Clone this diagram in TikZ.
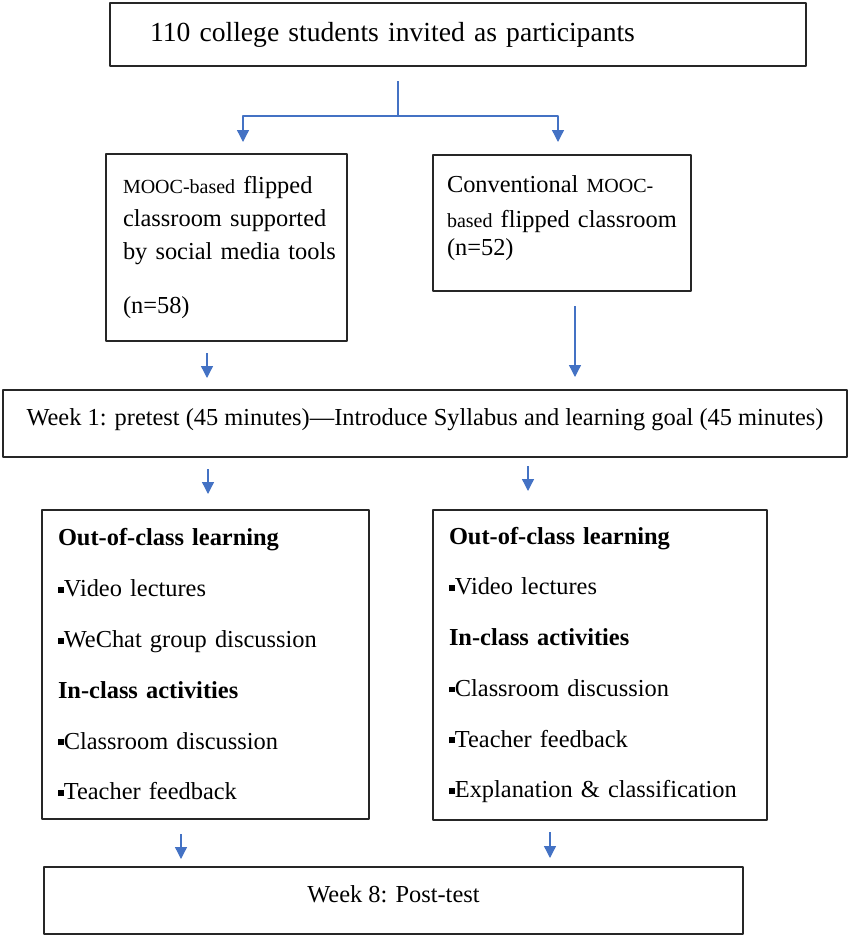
\documentclass[tikz,border=0pt]{standalone}
\usepackage{fontspec}
\setmainfont{Liberation Serif}
\usetikzlibrary{arrows.meta,calc}
\definecolor{flowblue}{RGB}{68,114,196}
\newcommand\sqb{\rule[0.16em]{0.24em}{0.24em}}
\newcommand\mooc[1]{{\fontsize{10}{12}\selectfont #1}}
\begin{document}
\begin{tikzpicture}[x=0.5pt, y=-0.5pt, line join=round,
	stage/.style={draw=black!85, line width=1pt, inner ysep=0pt, font=\fontsize{12.2}{16.5}\selectfont},
	flow/.style={draw=flowblue, line width=0.65pt, -{Triangle[width=6pt,length=6pt]}}]
	\useasboundingbox (0,0) rectangle (851,938);
	% boxes (pixel coordinates, y downwards)
	\node[stage, minimum width=348pt, minimum height=31.5pt, text width=308pt, inner xsep=20pt, align=left, text height=10pt, text depth=3.5pt, font=\fontsize{13.8}{16.5}\selectfont] (all) at (458,34.5) {110 college students invited as participants};
	\node[stage, minimum width=120.5pt, minimum height=93.5pt, text width=103.5pt, inner xsep=8.5pt, align=left] (grpA) at (226.5,247.5) {\mooc{MOOC-based} flipped\\ classroom supported\\ \mbox{by social media tools}\\[10.5pt] (n=58)};
	\node[stage, minimum width=129pt, minimum height=68pt, text width=115pt, inner xsep=7pt, align=left, text depth=39pt] (grpB) at (562,223) {Conventional \mooc{MOOC-}\\[1pt] \mbox{\mooc{based} flipped classroom}\\[-2.5pt] (n=52)};
	\node[stage, minimum width=422pt, minimum height=33.5pt, text height=9pt, text depth=7pt] (week) at (425,423.5) {Week 1: pretest (45 minutes)—Introduce Syllabus and learning goal (45 minutes)};
	\node[stage, minimum width=163.5pt, minimum height=154.5pt, text width=147.5pt, inner xsep=8pt, align=left, font=\fontsize{12.2}{25.4}\selectfont] (outA) at (205.5,664.5) {\textbf{Out-of-class learning}\\ \sqb Video lectures\\ \sqb WeChat group discussion\\ \textbf{In-class activities}\\ \sqb Classroom discussion\\ \sqb Teacher feedback};
	\node[stage, minimum width=167pt, minimum height=155pt, text width=151pt, inner xsep=8pt, align=left, font=\fontsize{12.2}{25.4}\selectfont] (outB) at (600,665) {\textbf{Out-of-class learning}\\ \sqb Video lectures\\ \textbf{In-class activities}\\ \sqb Classroom discussion\\ \sqb Teacher feedback\\ \sqb Explanation \& classification};
	\node[stage, minimum width=349.5pt, minimum height=33.5pt, text height=9pt, text depth=7.5pt] (post) at (393.5,900.5) {Week 8: Post-test};
	% arrows
	\coordinate (fork) at (398,116);
	\draw[flow, -] ($(all.south -| fork)+(0,14)$) -- (fork);
	\draw[flow] (fork) -| ($(grpA.north)+(16.5,-11)$);
	\draw[flow] (fork) -| ($(grpB.north)+(-4,-12)$);
	\draw[flow] ($(grpA.south)+(-19.5,11)$) -- ($(week.north -| grpA.south)+(-19.5,-11)$);
	\draw[flow] ($(grpB.south)+(13,14)$) -- ($(week.north -| grpB.south)+(13,-12)$);
	\draw[flow] ($(week.south -| outA.north)+(2.5,11)$) -- ($(outA.north)+(2.5,-15)$);
	\draw[flow] ($(week.south -| outB.north)+(-72,8)$) -- ($(outB.north)+(-72,-18)$);
	\draw[flow] ($(outA.south)+(-24.5,14)$) -- ($(post.north -| outA.south)+(-24.5,-7)$);
	\draw[flow] ($(outB.south)+(-50,11)$) -- ($(post.north -| outB.south)+(-50,-8)$);
\end{tikzpicture}
\end{document}
